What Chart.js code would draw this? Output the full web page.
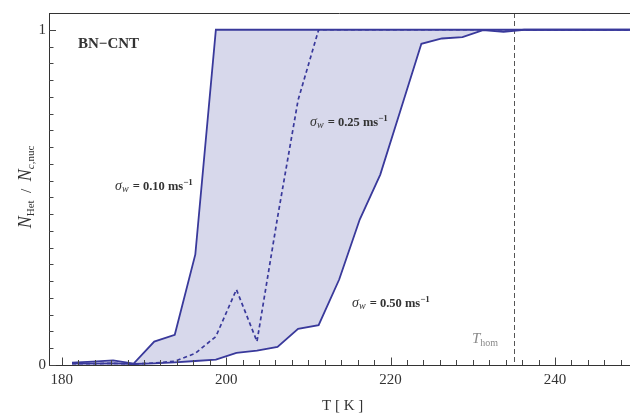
<!DOCTYPE html>
<html><head><meta charset="utf-8">
<script src="https://cdn.jsdelivr.net/npm/chart.js@4.4.0/dist/chart.umd.min.js"></script>
<style>html,body{margin:0;padding:0;background:#fff}#wrap{width:630px;height:414px}</style>
</head><body><div id="wrap"><canvas id="c" width="630" height="414"></canvas></div>
<script>
// ---- data ----
const temperatures = [181.25,183.75,186.25,188.75,191.25,193.75,196.25,198.75,201.25,203.75,206.25,208.75,211.25,213.75,216.25,218.75,221.25,223.75,226.25,228.75,231.25,233.75,236.25,238.75,241.25,243.75,246.25,248.75,251.25];
const sigma010 = [0.007,0.010,0.014,0.004,0.070,0.090,0.330,1,1,1,1,1,1,1,1,1,1,1,1,1,1,1,1,1,1,1,1,1,1];
const sigma025 = [0.004,0.004,0.005,0.003,0.006,0.011,0.035,0.085,0.225,0.070,0.440,0.790,1,1,1,1,1,1,1,1,1,1,1,1,1,1,1,1,1];
const sigma050 = [0.004,0.004,0.005,0.003,0.005,0.008,0.012,0.016,0.036,0.043,0.054,0.108,0.119,0.255,0.434,0.568,0.763,0.958,0.974,0.978,0.999,0.994,1,1,1,1,1,1,1];
const xTickLabels = [180,200,220,240];
const xMinorTicks = [182,184,186,188,190,192,194,196,198,202,204,206,208,210,212,214,216,218,222,224,226,228,230,232,234,236,238,242,244,246,248];
const yTickLabels = [0,1];
const yMinorTicks = [0.05,0.1,0.15,0.2,0.25,0.3,0.35,0.4,0.45,0.5,0.55,0.6,0.65,0.7,0.75,0.8,0.85,0.9,0.95];
const T_HOM = 235;
const curveLabels = [
  {value:'0.10', x:115, y:190},
  {value:'0.25', x:310, y:126},
  {value:'0.50', x:352, y:307}
];

const LINE = '#39399b';
const FILL = 'rgb(215,216,235)';
const SERIF = '"Liberation Serif","DejaVu Serif",serif';
const TEXT = '#333';

const pts = arr => arr.map((v,i)=>({x:temperatures[i], y:v}));

function rich(ctx, x, y, segs){
  let cx = x;
  for(const s of segs){
    ctx.font = s.font;
    ctx.fillText(s.t, cx, y + (s.dy||0));
    cx += ctx.measureText(s.t).width + (s.gap||0);
  }
  return cx - x;
}
function richWidth(ctx, segs){
  let w=0;
  for(const s of segs){ctx.font=s.font; w+=ctx.measureText(s.t).width+(s.gap||0);}
  return w;
}

const decor = {
  id:'decor',
  beforeDatasetsDraw(chart){
    const {ctx, chartArea:a, scales:{x,y}} = chart;
    ctx.save();
    const px = Math.round(x.getPixelForValue(T_HOM));
    ctx.strokeStyle = '#555';
    ctx.lineWidth = 1;
    ctx.setLineDash([5,3]);
    ctx.beginPath(); ctx.moveTo(px+0.5, a.top); ctx.lineTo(px+0.5, a.bottom); ctx.stroke();
    ctx.restore();
  },
  afterDraw(chart){
    const {ctx, chartArea:a, scales:{x,y}} = chart;
    ctx.save();
    // frame top
    ctx.strokeStyle = '#333'; ctx.lineWidth = 1;
    ctx.beginPath(); ctx.moveTo(a.left, a.top+0.5); ctx.lineTo(a.right, a.top+0.5); ctx.stroke();
    // inward ticks
    ctx.strokeStyle = '#444';
    const b = a.bottom;
    ctx.beginPath();
    for(const v of xTickLabels){const p=Math.round(x.getPixelForValue(v))+0.5; ctx.moveTo(p,b); ctx.lineTo(p,b-7.5);}
    for(const v of xMinorTicks){const p=Math.round(x.getPixelForValue(v))+0.5; ctx.moveTo(p,b); ctx.lineTo(p,b-5);}
    for(const v of yTickLabels){const p=Math.round(y.getPixelForValue(v))+0.5; ctx.moveTo(a.left,p); ctx.lineTo(a.left+7,p);}
    for(const v of yMinorTicks){const p=Math.round(y.getPixelForValue(v))+0.5; ctx.moveTo(a.left,p); ctx.lineTo(a.left+4.5,p);}
    ctx.stroke();

    ctx.fillStyle = TEXT; ctx.textBaseline = 'alphabetic'; ctx.textAlign='left';
    // BN-CNT
    ctx.font = 'bold 15px '+SERIF;
    ctx.fillText('BN\u2212CNT', 78, 48);
    // sigma labels
    for(const L of curveLabels){
      rich(ctx, L.x, L.y, [
        {t:'\u03C3', font:'italic 14px '+SERIF},
        {t:'w', font:'italic 10px '+SERIF, dy:2, gap:1},
        {t:' = '+L.value+' ms', font:'bold 12.5px '+SERIF},
        {t:'\u22121', font:'bold 9px '+SERIF, dy:-5}
      ]);
    }
    // T_hom
    ctx.fillStyle = '#8a8a8a';
    rich(ctx, 472, 343, [
      {t:'T', font:'italic 15px '+SERIF},
      {t:'hom', font:'10px '+SERIF, dy:3}
    ]);
    // x title
    ctx.fillStyle = TEXT;
    ctx.font = '15px '+SERIF;
    ctx.fillText('T [ K ]', 322, 410);
    // y title rotated
    const segs = [
      {t:'N', font:'italic 18px '+SERIF},
      {t:'Het', font:'11px '+SERIF, dy:3},
      {t:'  /  ', font:'15px '+SERIF},
      {t:'N', font:'italic 18px '+SERIF},
      {t:'c', font:'italic 11px '+SERIF, dy:3},
      {t:',nuc', font:'11px '+SERIF, dy:3}
    ];
    const w = richWidth(ctx, segs);
    ctx.translate(31, 187);
    ctx.rotate(-Math.PI/2);
    rich(ctx, -w/2, 0, segs);
    ctx.restore();
  }
};

new Chart(document.getElementById('c'), {
  type:'line',
  data:{datasets:[
    {label:'0.10', data:pts(sigma010), borderColor:LINE, borderWidth:1.8, pointRadius:0, tension:0, fill:2, backgroundColor:FILL},
    {label:'0.25', data:pts(sigma025), borderColor:LINE, borderWidth:1.7, borderDash:[4,3], pointRadius:0, tension:0, fill:false},
    {label:'0.50', data:pts(sigma050), borderColor:LINE, borderWidth:1.8, pointRadius:0, tension:0, fill:false}
  ]},
  options:{
    responsive:false, animation:false, devicePixelRatio:1,
    layout:{padding:{top:13,right:0,left:0,bottom:0}},
    plugins:{legend:{display:false}, tooltip:{enabled:false}, filler:{drawTime:'beforeDatasetsDraw'}},
    scales:{
      x:{type:'linear', min:178.45, max:249.13,
        afterBuildTicks:s=>{s.ticks = xTickLabels.map(v=>({value:v}));},
        afterFit:s=>{s.height=49;},
        grid:{display:false, drawTicks:false},
        border:{display:true, color:'#333', width:1},
        ticks:{padding:6, color:TEXT, font:{family:SERIF, size:15}, maxRotation:0, autoSkip:false}
      },
      y:{type:'linear', min:0, max:1.05,
        afterBuildTicks:s=>{s.ticks = yTickLabels.map(v=>({value:v}));},
        afterFit:s=>{s.width=49;},
        grid:{display:false, drawTicks:false},
        border:{display:true, color:'#333', width:1},
        ticks:{padding:3, color:TEXT, font:{family:SERIF, size:15}}
      }
    }
  },
  plugins:[decor]
});
</script></body></html>
